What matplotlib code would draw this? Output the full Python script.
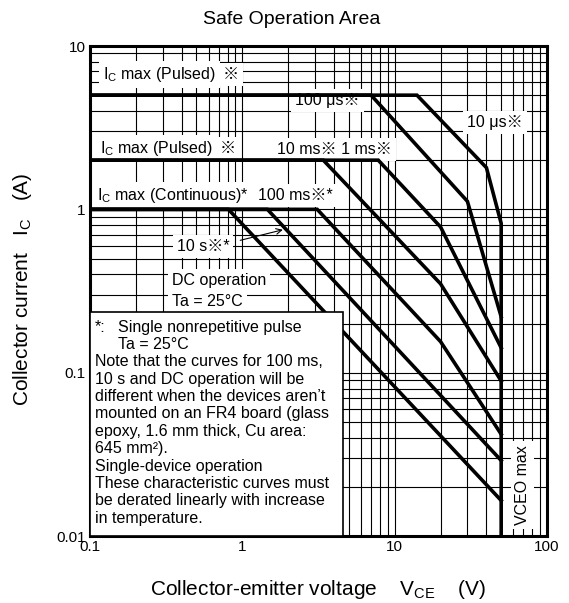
import matplotlib
matplotlib.use("Agg")
import matplotlib.pyplot as plt
from matplotlib.patches import Rectangle
from matplotlib.ticker import LogLocator, NullFormatter

plt.rcParams['font.family'] = ['Liberation Sans', 'Noto Sans CJK JP', 'DejaVu Sans']
plt.rcParams['mathtext.fontset'] = 'custom'
plt.rcParams['mathtext.rm'] = 'Liberation Sans'
plt.rcParams['mathtext.it'] = 'Liberation Sans:italic'

# SOA boundaries, corner points (V_CE [V], I_C [A])
v_10us = [0.1, 14, 40, 50, 50]
i_10us = [5, 5, 1.8, 0.82, 0.01]
v_100us = [0.1, 7, 30, 50]
i_100us = [5, 5, 1.12, 0.22]
v_1ms = [0.1, 7.8, 20, 50]
i_1ms = [2, 2, 0.78, 0.142]
v_10ms = [0.1, 3.4, 20, 50]
i_10ms = [2, 2, 0.35, 0.089]
v_100ms = [0.1, 3.1, 20, 50]
i_100ms = [1, 1, 0.155, 0.042]
v_10s = [0.1, 1.46, 50]
i_10s = [1, 1, 0.029]
v_dc = [0.1, 0.81, 50]
i_dc = [1, 1, 0.0165]

curves = [(v_10us, i_10us), (v_100us, i_100us), (v_1ms, i_1ms), (v_10ms, i_10ms),
          (v_100ms, i_100ms), (v_10s, i_10s), (v_dc, i_dc)]

x_ticks = [0.1, 1, 10, 100]
x_ticklabels = ['0.1', '1', '10', '100']
y_ticks = [0.01, 0.1, 1, 10]
y_ticklabels = ['0.01', '0.1', '1', '10']

note_lines = [
    "Note that the curves for 100 ms,",
    "10 s and DC operation will be",
    "different when the devices aren\u2019t",
    "mounted on an FR4 board (glass",
    "epoxy, 1.6 mm thick, Cu area:",
    "645 mm\u00b2).",
    "Single-device operation",
    "These characteristic curves must",
    "be derated linearly with increase",
    "in temperature.",
]

fig = plt.figure(figsize=(5.69, 6.03), dpi=100)
ax = fig.add_axes([0.1582, 0.1111, 0.8032, 0.8126])

for v, i in curves:
    ax.plot(v, i, color='black', lw=2.6, solid_joinstyle='miter', zorder=6)

ax.set_xscale('log')
ax.set_yscale('log')
ax.set_xlim(0.1, 100)
ax.set_ylim(0.01, 10)
ax.set_xticks(x_ticks)
ax.set_xticklabels(x_ticklabels)
ax.set_yticks(y_ticks)
ax.set_yticklabels(y_ticklabels)
ax.xaxis.set_minor_locator(LogLocator(subs=range(2, 10)))
ax.yaxis.set_minor_locator(LogLocator(subs=range(2, 10)))
ax.xaxis.set_minor_formatter(NullFormatter())
ax.yaxis.set_minor_formatter(NullFormatter())
ax.tick_params(which='both', length=0, labelsize=11, pad=3)
ax.grid(which='both', color='black', lw=0.8)
ax.set_axisbelow(True)
for s in ax.spines.values():
    s.set_linewidth(2.2)

box = dict(boxstyle='square,pad=0.25', fc='white', ec='none')
fs = 11.5


def txt(fx, fy, s, **kw):
    return ax.text(fx, fy, s, transform=ax.transAxes, fontsize=fs, va='baseline',
                   bbox=box, zorder=5, **kw)


def mark(t, fy, s, gap=5):
    ax.annotate(s, xy=(1, fy), xycoords=(t, ax.transAxes), xytext=(gap, 0),
                textcoords='offset points', fontsize=fs, va='baseline', bbox=box, zorder=5)


t = txt(0.028, 0.932, r"I$_\mathrm{C}$ max (Pulsed)")
mark(t, 0.932, "\u203b")
txt(0.449, 0.880, "100 \u03bcs\u203b")
txt(0.825, 0.834, "10 \u03bcs\u203b")
t = txt(0.022, 0.781, r"I$_\mathrm{C}$ max (Pulsed)")
mark(t, 0.781, "\u203b")
txt(0.409, 0.779, "10 ms\u203b 1 ms\u203b")
txt(0.015, 0.685, r"I$_\mathrm{C}$ max (Continuous)*")
txt(0.368, 0.685, "100 ms\u203b*")
txt(0.19, 0.581, "10 s\u203b*")
txt(0.179, 0.512, "DC operation")
txt(0.179, 0.469, "Ta = 25\u00b0C")
ax.text(0.947, 0.104, "VCEO max", transform=ax.transAxes, fontsize=fs, rotation=90,
        ha='center', va='center', bbox=box, zorder=5)
ax.annotate("", xy=(1.92, 0.757), xytext=(0.93, 0.64),
            arrowprops=dict(arrowstyle='->', lw=0.8, color='black'), zorder=5)

# note box, drawn over the DC curve
ax.add_patch(Rectangle((0, 0), 0.554, 0.457, transform=ax.transAxes, fc='white',
                       ec='black', lw=1.2, zorder=7))
y0 = 0.4265
dy = 0.0355
ax.text(0.011, y0, "*:", transform=ax.transAxes, fontsize=fs, va='center', zorder=8)
ax.text(0.061, y0, "Single nonrepetitive pulse", transform=ax.transAxes, fontsize=fs,
        va='center', zorder=8)
ax.text(0.061, y0 - dy, "Ta = 25\u00b0C", transform=ax.transAxes, fontsize=fs,
        va='center', zorder=8)
for k, line in enumerate(note_lines):
    ax.text(0.011, y0 - dy * (k + 2), line, transform=ax.transAxes, fontsize=fs,
            va='center', zorder=8)

fig.text(0.512, 1 - 20 / 603, "Safe Operation Area", fontsize=14, ha='center', va='center')
fig.text(0.5598, 0.0216, r"Collector-emitter voltage    V$_\mathrm{CE}$    (V)",
         fontsize=15, ha='center', va='center')
fig.text(0.04, 0.52, r"Collector current   I$_\mathrm{C}$   (A)", fontsize=15,
         rotation=90, ha='center', va='center')

fig.savefig('out.png', dpi=100)
